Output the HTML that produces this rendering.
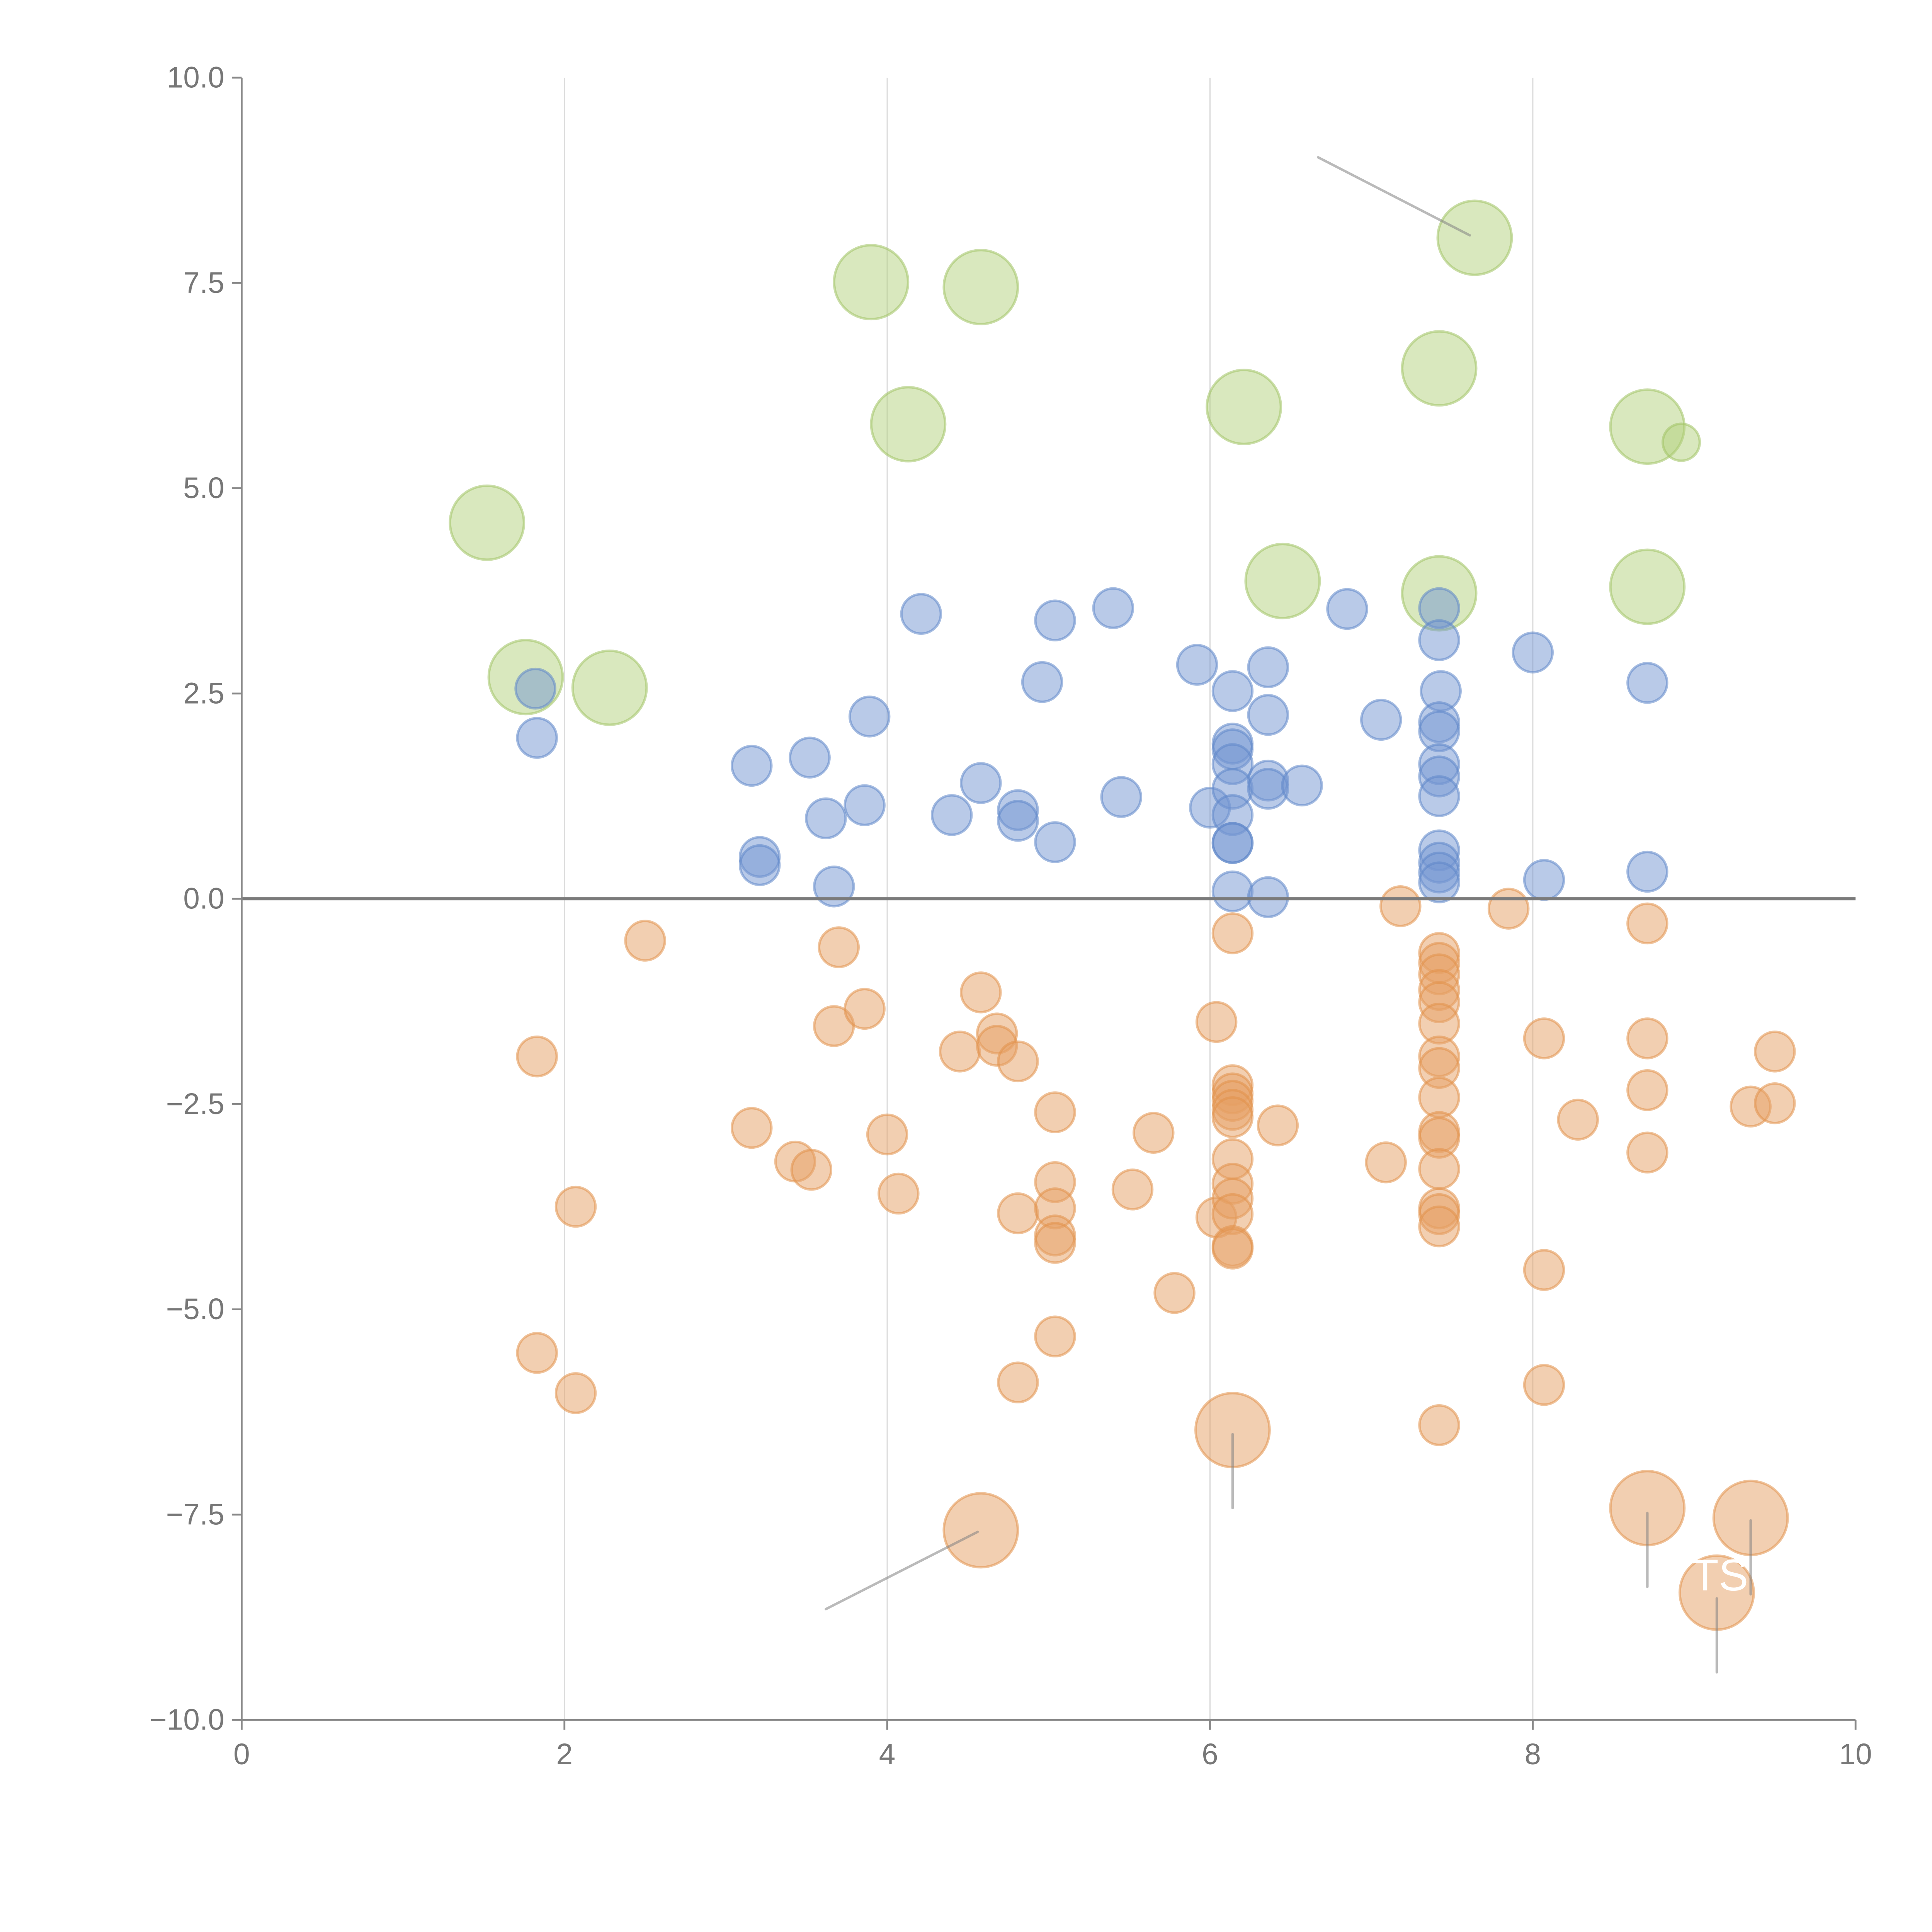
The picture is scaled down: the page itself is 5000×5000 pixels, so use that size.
<!DOCTYPE html>
<html><head><meta charset="utf-8"><style>
html,body{margin:0;padding:0;background:#fff;}
svg{display:block;}
text{font-family:"Liberation Sans",sans-serif;}
</style></head><body>
<svg id="chart" width="5000" height="5000" viewBox="0 0 1567 1567" xmlns="http://www.w3.org/2000/svg">
<g id="grid"></g>
<g id="marks"></g>
<g id="axes"></g>
</svg>
<script>
// data (x, y) per series
const blueX=[1.82,1.83,3.16,3.21,3.21,3.52,3.62,3.67,3.86,3.89,4.21,4.40,4.58,4.81,4.81,4.96,5.04,5.04,5.40,5.45,5.92,6.00,6.14,6.14,6.14,6.14,6.14,6.14,6.14,6.14,6.14,6.36,6.36,6.36,6.36,6.36,6.57,6.85,7.06,7.42,7.42,7.43,7.42,7.42,7.42,7.42,7.42,7.42,7.42,7.42,7.42,8.00,8.07,8.71,8.71];
const blueY=[2.56,1.96,1.62,0.51,0.41,1.72,0.98,0.15,1.14,2.22,3.47,1.02,1.41,1.08,0.95,2.64,3.39,0.69,3.54,1.24,2.85,1.11,2.53,1.89,1.82,1.64,1.34,1.02,0.68,0.68,0.09,2.82,2.24,1.44,1.34,0.02,1.38,3.53,2.18,3.54,3.15,2.53,2.15,2.04,1.64,1.49,1.25,0.59,0.44,0.32,0.20,3.00,0.23,2.63,0.33];
const orangeX=[2.50,1.83,2.07,1.83,2.07,3.16,3.43,3.53,3.70,3.67,3.86,4.00,4.07,4.45,4.58,4.68,4.68,4.81,4.81,4.81,5.04,5.04,5.04,5.04,5.04,5.04,5.52,5.65,5.78,6.04,6.04,6.14,6.14,6.14,6.14,6.14,6.14,6.14,6.14,6.14,6.14,6.14,6.14,6.42,7.09,7.18,7.42,7.42,7.42,7.42,7.42,7.42,7.42,7.42,7.42,7.42,7.42,7.42,7.42,7.42,7.42,7.42,7.85,8.07,8.07,8.07,8.28,8.71,8.71,8.71,8.71,9.35,9.50,9.50];
const orangeY=[-0.51,-1.92,-3.75,-5.53,-6.02,-2.79,-3.20,-3.30,-0.59,-1.55,-1.34,-2.87,-3.59,-1.86,-1.14,-1.64,-1.79,-1.98,-3.83,-5.89,-2.60,-3.45,-3.77,-4.10,-4.19,-5.33,-3.54,-2.85,-4.80,-1.50,-3.88,-0.42,-2.27,-2.37,-2.46,-2.57,-2.66,-3.17,-3.47,-3.65,-3.84,-4.23,-4.26,-2.76,-3.21,-0.09,-0.66,-0.78,-0.92,-1.11,-1.26,-1.52,-1.92,-2.06,-2.42,-2.84,-2.91,-3.29,-3.77,-3.84,-3.99,-6.41,-0.12,-1.70,-4.52,-5.92,-2.69,-0.30,-1.70,-2.33,-3.09,-2.53,-1.86,-2.49];
const bigOrangeX=[4.58,6.14,8.71,9.35,9.14];
const bigOrangeY=[-7.69,-6.47,-7.42,-7.54,-8.45];
const greenX=[1.52,1.76,2.28,3.90,4.58,4.13,6.21,6.45,7.64,7.42,7.42,8.71,8.71];
const greenY=[4.58,2.70,2.57,7.51,7.45,5.78,5.99,3.87,8.05,6.46,3.72,5.75,3.80];
const smallGreenX=[8.92];
const smallGreenY=[5.56];
const xTicks=[0,2,4,6,8,10];
const xTickLabels=["0","2","4","6","8","10"];
const yTicks=[10,7.5,5,2.5,0,-2.5,-5,-7.5,-10];
const yTickLabels=["10.0","7.5","5.0","2.5","0.0","\u22122.5","\u22125.0","\u22127.5","\u221210.0"];

const X0=196,X1=1505,Y0=1395,Y1=63;
const sx=v=>X0+(v-0)/(10-0)*(X1-X0);
const sy=v=>Y0-(v+10)/20*(Y0-Y1);
const NS="http://www.w3.org/2000/svg";
function mk(tag,attrs,parent){const e=document.createElementNS(NS,tag);for(const k in attrs)e.setAttribute(k,attrs[k]);parent.appendChild(e);return e;}
const grid=document.getElementById('grid'),marks=document.getElementById('marks'),axes=document.getElementById('axes');

xTicks.forEach((t,i)=>{if(t>0&&t<10){const l=mk('line',{x1:sx(t),x2:sx(t),y1:Y1,y2:Y0,stroke:'#dcdcdc','stroke-width':1},grid);

}});

function series(xs,ys,r,fill,stroke,name){xs.forEach((x,i)=>{const c=mk('circle',{cx:sx(x),cy:sy(ys[i]),r:r,fill:fill,stroke:stroke,'stroke-width':2},marks);

});}
series(greenX,greenY,30,'rgba(176,206,120,0.48)','rgba(160,195,100,0.55)','green');
series(smallGreenX,smallGreenY,15,'rgba(176,206,120,0.48)','rgba(160,195,100,0.55)','green-small');
series(blueX,blueY,16,'rgba(115,150,210,0.5)','rgba(95,135,200,0.55)','blue');
series(orangeX,orangeY,16,'rgba(230,160,100,0.5)','rgba(225,145,75,0.55)','orange');
series(bigOrangeX,bigOrangeY,30,'rgba(230,160,100,0.5)','rgba(225,145,75,0.55)','orange-large');

// annotation leader lines
[[6.67,9.03,7.61,8.08],[3.62,-8.65,4.56,-7.71],[6.14,-6.52,6.14,-7.42],[8.71,-7.48,8.71,-8.38],[9.35,-7.57,9.35,-8.47],[9.14,-8.52,9.14,-9.42]].forEach((s,i)=>{
const l=mk('line',{x1:sx(s[0]),y1:sy(s[1]),x2:sx(s[2]),y2:sy(s[3]),stroke:'rgba(130,130,130,0.55)','stroke-width':2,'stroke-linecap':'round'},marks);

});
const ts=mk('text',{x:1395,y:1290,'font-size':36,fill:'#fff','text-anchor':'middle'},marks);ts.textContent='TS';



// zero line
const z=mk('line',{x1:X0,x2:X1,y1:sy(0),y2:sy(0),stroke:'#7a7a7a','stroke-width':2.5},axes);


const ya=mk('line',{x1:X0,x2:X0,y1:Y1,y2:Y0,stroke:'#888','stroke-width':1.5},axes);


const xa=mk('line',{x1:X0,x2:X1,y1:Y0,y2:Y0,stroke:'#888','stroke-width':1.5},axes);


xTicks.forEach((t,i)=>{mk('line',{x1:sx(t),x2:sx(t),y1:Y0,y2:Y0+8,stroke:'#888','stroke-width':1.5},axes);
const tx=mk('text',{x:sx(t),y:Y0+36,'font-size':24,fill:'#777','text-anchor':'middle'},axes);tx.textContent=xTickLabels[i];

});
yTicks.forEach((t,i)=>{mk('line',{x1:X0-8,x2:X0,y1:sy(t),y2:sy(t),stroke:'#888','stroke-width':1.5},axes);
const tx=mk('text',{x:X0-14,y:sy(t)+8,'font-size':24,fill:'#777','text-anchor':'end'},axes);tx.textContent=yTickLabels[i];

});
</script>
</body></html>
